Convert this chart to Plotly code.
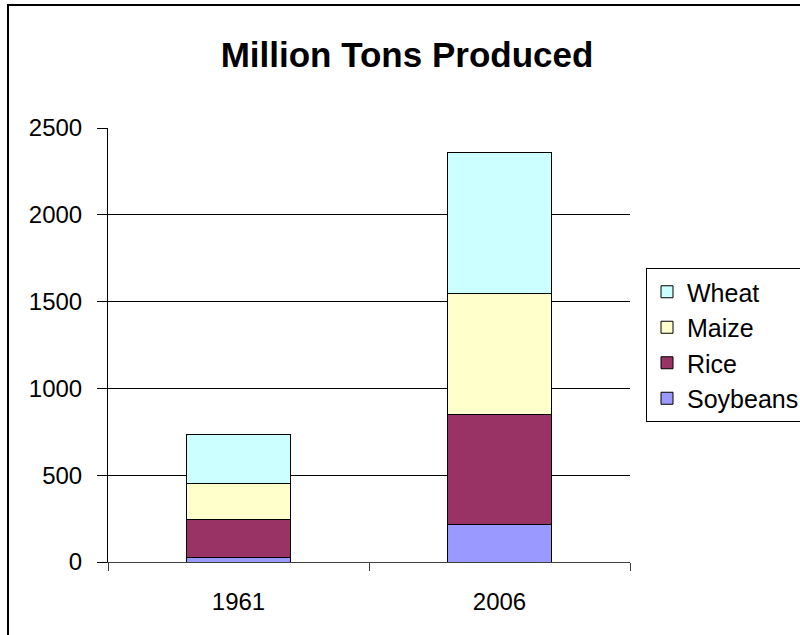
import plotly.graph_objects as go

years = ["1961", "2006"]
soybeans = [25, 216]
rice = [217, 636]
maize = [208, 693]
wheat = [285, 815]

series = [
    ("Soybeans", soybeans, "#9999FF"),
    ("Rice", rice, "#993366"),
    ("Maize", maize, "#FFFFCC"),
    ("Wheat", wheat, "#CCFFFF"),
]

fig = go.Figure()
for name, vals, col in series:
    fig.add_trace(go.Bar(x=years, y=vals, name=name,
                         marker=dict(color=col, line=dict(color="#000000", width=1))))

W, H = 800, 635
L, R, T, B = 108, 170, 128, 73
pw, ph = W - L - R, H - T - B

def px(x):
    return (x - L) / pw

def py(y):
    return (H - B - y) / ph

FONT = "Liberation Sans, Arial, sans-serif"

fig.update_layout(
    width=W, height=H,
    margin=dict(l=L, r=R, t=T, b=B, pad=0),
    paper_bgcolor="white", plot_bgcolor="white",
    barmode="stack", bargap=0.6,
    font=dict(family=FONT, size=24, color="black"),
    title=dict(text="<b>Million Tons Produced</b>", x=407 / W, xanchor="center",
               y=1 - 55 / H, yanchor="middle",
               font=dict(size=35, family=FONT, color="black")),
    xaxis=dict(type="category", showline=True, linecolor="#404040", linewidth=1,
               ticks="outside", tickson="boundaries", ticklen=8, tickcolor="#404040",
               showgrid=False, tickfont=dict(size=24), ticklabelstandoff=18),
    yaxis=dict(range=[0, 2500], dtick=500, showline=True, linecolor="black", linewidth=1,
               ticks="outside", ticklen=10, tickcolor="black",
               showgrid=True, gridcolor="black", gridwidth=1, zeroline=False,
               tickfont=dict(size=24), ticklabelstandoff=10),
    legend=dict(xref="container", yref="container", x=646 / W, y=1 - 268 / H,
                xanchor="left", yanchor="top",
                traceorder="reversed", bordercolor="black", borderwidth=1,
                bgcolor="white", font=dict(size=25), itemwidth=30),
    showlegend=True,
    shapes=[dict(type="rect", xref="paper", yref="paper",
                 x0=px(8), x1=px(810), y0=py(645), y1=py(5),
                 line=dict(color="black", width=2), fillcolor="rgba(0,0,0,0)", layer="below")],
)

fig.write_html("out.html")
